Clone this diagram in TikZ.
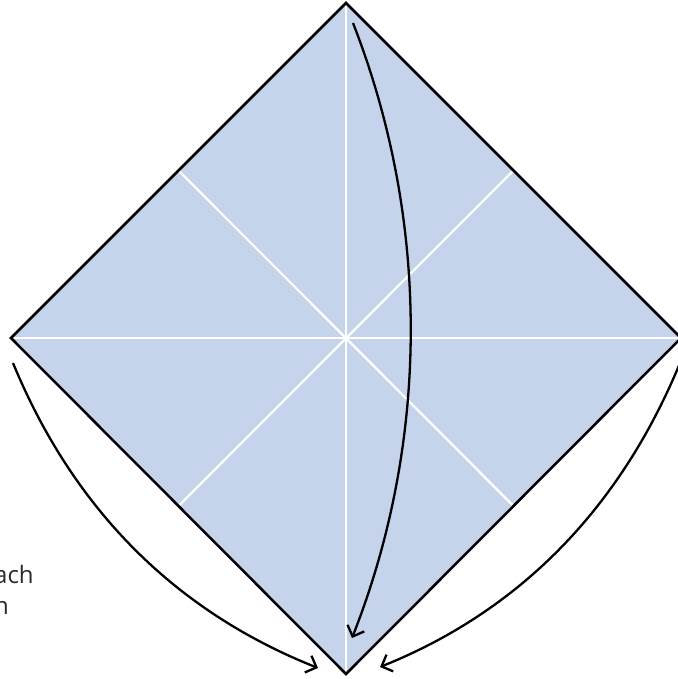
\documentclass[tikz,border=0pt]{standalone}
\usepackage{fontspec}
\setmainfont{Open Sans}
\usepackage{xcolor}
\usetikzlibrary{arrows.meta, calc}
\definecolor{paperColor}{HTML}{C5D4EA}
\definecolor{noteColor}{HTML}{2A2A2A}

\begin{document}
\begin{tikzpicture}[x=1pt, y=-1pt,
    edge/.style={line width=2.5pt, line join=miter},
    crease/.style={white, line width=2.2pt},
    fold/.style={line width=2.3pt, -{Straight Barb[length=9pt, width=18pt, line width=2.3pt]}}]
    \useasboundingbox (0,0) rectangle (677,679);
    % corners of the square
    \coordinate (top) at (346,3);
    \coordinate (left) at (11,338);
    \coordinate (right) at (681,338);
    \coordinate (bottom) at (346,674);
    \coordinate (mid) at (346,338);
    \fill[paperColor] (top) -- (right) -- (bottom) -- (left) -- cycle;
    \draw[crease] (top) -- (bottom);
    \draw[crease] (left) -- (right);
    \draw[crease] ($(top)!0.5!(left)$) -- ($(right)!0.5!(bottom)$);
    \draw[crease] ($(top)!0.5!(right)$) -- ($(left)!0.5!(bottom)$);
    \draw[edge] (top) -- (right) -- (bottom) -- (left) -- cycle;
    % fold arrows
    \coordinate (topStart) at (353,23);
    \coordinate (topEnd) at (352,638);
    \draw[fold] (topStart) .. controls (430,220) and (430,440) .. (topEnd);
    \coordinate (leftStart) at (13,363);
    \coordinate (leftEnd) at (318,668);
    \draw[fold] (leftStart) .. controls (72,506) and (172,610) .. (leftEnd);
    \coordinate (rightStart) at (680,363);
    \coordinate (rightEnd) at (380,667);
    \draw[fold] (rightStart) .. controls (621,506) and (522,610) .. (rightEnd);
    \node[anchor=north west, align=left, text=noteColor, font=\fontsize{24}{31}\selectfont, inner sep=0pt] (note) at (-6,565) {ach\\n};
\end{tikzpicture}
\end{document}
